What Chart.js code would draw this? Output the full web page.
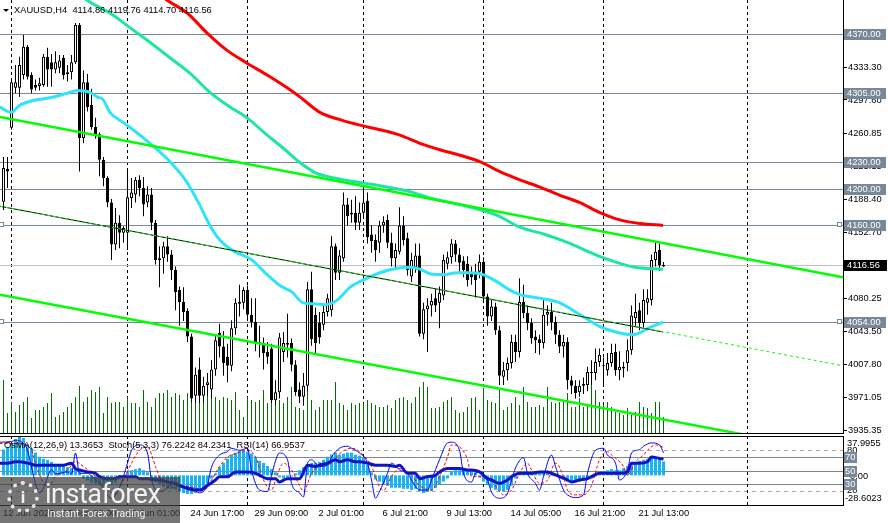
<!DOCTYPE html>
<html>
<head>
<meta charset="utf-8">
<script src="https://cdn.jsdelivr.net/npm/chart.js@4.4.1/dist/chart.umd.min.js"></script>
<style>
html, body { margin: 0; padding: 0; background: #fff; overflow: hidden; }
#wrap { position: relative; width: 888px; height: 523px; overflow: hidden; }
#main { position: absolute; left: 0; top: 0; }
#ind { position: absolute; left: 0; top: 434px; }
#logo { position: absolute; left: 0; top: 477px; width: 180px; height: 46px; background: rgba(64,64,64,0.72); }
#logoIcon { position: absolute; left: 7px; top: 4px; width: 24px; height: 24px; border: 4px dotted rgba(240,240,240,0.92); border-radius: 50%; text-align: center; }
#logoIcon span { color: #f2f2f2; font: bold 17px Roboto, sans-serif; line-height: 24px; }
#logoName { position: absolute; left: 45px; top: 2px; font: 27px Roboto, sans-serif; color: #f2f2f2; letter-spacing: -0.5px; line-height: 30px; }
#logoSub { position: absolute; left: 47px; top: 31px; font: 10.5px Roboto, sans-serif; color: #eeeeee; line-height: 12px; }
</style>
</head>
<body>
<div id="wrap">
  <canvas id="main" width="888" height="434"></canvas>
  <canvas id="ind" width="888" height="89"></canvas>
  <div id="logo">
    <div id="logoIcon"><span>i</span></div>
    <div id="logoName">instaforex</div>
    <div id="logoSub">Instant Forex Trading</div>
  </div>
</div>
<script>
// ---- data (bar index 0 = first full candle) ----
const opens = [4186,4222,4267,4311,4311,4325,4356,4325,4314,4313,
  4314,4345,4339,4331,4333,4344,4326,4328,4339,4380,
  4256,4317,4292,4268,4260,4232,4212,4185,4139,4163,
  4152,4152,4190,4194,4210,4201,4185,4194,4163,4124,
  4124,4137,4128,4111,4089,4076,4066,4038,3973,4002,
  3973,3985,3980,4002,4042,4027,4016,4006,4047,4074,
  4075,4089,4062,4054,4032,4031,4021,4025,3968,3977,
  4021,4029,4031,4007,3980,3972,3984,4090,4062,4053,
  4051,4065,4067,4137,4108,4124,4183,4174,4174,4163,
  4174,4187,4150,4144,4141,4160,4166,4141,4124,4131,
  4160,4146,4104,4114,4127,4041,4068,4072,4080,4075,
  4083,4118,4125,4140,4128,4121,4118,4109,4109,4109,
  4120,4082,4060,4071,4045,3994,4001,4009,4032,4021,
  4076,4064,4053,4038,4035,4031,4062,4065,4054,4040,
  4027,4032,3990,3984,3977,3984,3985,3998,3998,4010,
  4006,4001,4009,4021,4001,4005,4009,4023,4058,4067,
  4053,4075,4078,4122,4133,4114.86];
const highs = [4235,4235,4320,4336,4345,4369,4358,4328,4320,4322,
  4348,4355,4348,4351,4347,4347,4336,4347,4382,4382,
  4330,4326,4310,4278,4262,4235,4214,4189,4179,4171,
  4159,4221,4212,4213,4215,4213,4203,4201,4166,4137,
  4142,4148,4133,4115,4093,4092,4069,4041,4004,4015,
  3994,3998,4012,4040,4052,4044,4030,4056,4080,4095,
  4092,4094,4080,4080,4050,4037,4032,4030,3990,4042,
  4043,4063,4036,4012,3988,3998,4098,4109,4070,4065,
  4072,4085,4148,4140,4133,4196,4190,4188,4192,4185,
  4203,4196,4160,4150,4165,4170,4172,4152,4140,4180,
  4170,4152,4130,4140,4140,4075,4080,4085,4090,4093,
  4128,4131,4145,4144,4135,4126,4126,4115,4118,4128,
  4125,4085,4078,4075,4050,4010,4015,4040,4040,4102,
  4095,4072,4058,4045,4040,4080,4072,4075,4060,4045,
  4040,4037,3995,3990,3990,3993,4005,4012,4025,4025,
  4015,4020,4030,4030,4022,4010,4035,4072,4085,4075,
  4090,4090,4128,4142,4140,4119.76];
const lows = [4177,4201,4265,4305,4301,4320,4320,4305,4308,4308,
  4312,4312,4312,4327,4327,4320,4318,4320,4337,4219,
  4250,4285,4265,4255,4214,4203,4180,4122,4133,4135,
  4141,4133,4179,4185,4192,4170,4180,4155,4117,4092,
  4107,4120,4100,4067,4050,4055,4032,3966,3965,3965,
  3966,3973,3970,3995,4015,3995,3988,4000,4040,4060,
  4068,4055,4048,4022,4015,4002,4008,3965,3963,3970,
  4010,4015,4000,3973,3965,3962,3978,4028,4020,4030,
  4045,4060,4060,4100,4100,4120,4160,4163,4155,4155,
  4170,4140,4130,4120,4130,4152,4135,4115,4112,4128,
  4138,4105,4098,4108,4038,4035,4021,4060,4065,4047,
  4078,4112,4118,4120,4109,4103,4093,4095,4081,4102,
  4078,4050,4055,4040,3985,3985,3990,4003,4010,4015,
  4058,4045,4030,4020,4018,4025,4050,4045,4030,4020,
  4015,3980,3975,3970,3972,3975,3978,3985,3990,4005,
  3983,3995,4005,3995,3990,3993,4000,4018,4050,4045,
  4048,4062,4072,4115,4110,4114.70];
const closes = [4223,4219,4317,4317,4336,4356,4323,4309,4311,4316,
  4345,4331,4331,4339,4341,4325,4328,4339,4380,4256,
  4317,4290,4268,4258,4232,4212,4185,4139,4163,4152,
  4157,4191,4196,4210,4201,4183,4194,4163,4122,4122,
  4137,4128,4111,4087,4076,4065,4038,3970,3996,3973,
  3984,3988,4002,4034,4027,4009,4006,4047,4075,4076,
  4089,4062,4054,4032,4031,4020,4016,3968,3977,4037,
  4031,4031,4007,3977,3972,3984,4090,4035,4031,4037,
  4065,4080,4137,4108,4127,4183,4170,4172,4163,4174,
  4185,4147,4143,4133,4160,4164,4141,4124,4133,4160,
  4144,4111,4122,4127,4041,4068,4072,4077,4072,4086,
  4122,4125,4140,4128,4119,4111,4100,4103,4100,4120,
  4082,4060,4071,4045,3995,4001,4009,4032,4021,4076,
  4064,4053,4036,4034,4031,4062,4065,4054,4040,4027,
  4032,3990,3984,3976,3984,3986,3999,3999,4010,4018,
  4007,4009,4020,4001,4005,4003,4023,4061,4065,4053,
  4078,4080,4122,4131,4116,4116.56];
const volumes = [10600,4000,6200,4200,5600,6200,7200,3000,4600,4600,
  5200,6000,8000,3200,3600,4200,5200,6000,7200,9400,
  6200,7200,8600,8200,9200,4000,7200,6000,6200,6200,
  5200,7200,6000,6000,5200,8600,6200,5200,7000,8000,
  8000,8600,7200,8000,7600,6600,8000,8600,8200,7200,
  8600,9600,10000,7200,6600,7200,7000,6600,8200,4600,
  3200,7200,6600,6200,6600,8600,6000,9200,6000,6600,
  6000,7200,9200,5200,5000,4600,8600,6600,4600,5200,
  6600,6600,6600,10200,6000,5600,4600,6000,5600,6000,
  6000,6600,6000,5600,5200,5200,5600,5000,6600,7000,
  7200,6600,6000,7200,9200,10200,9200,5000,5000,5200,
  6200,6600,7200,4600,4000,4200,5200,7000,7200,4600,
  9000,6600,6200,6000,8600,4600,5200,6000,7200,5600,
  9200,6200,5200,5200,5600,5200,9200,6200,6000,6200,
  6600,8000,5200,5200,7000,5200,5600,10000,8600,6200,
  5600,6200,5200,4200,4000,3600,5000,3600,4200,6200,
  5200,5000,4000,6200,6200,3200];

// moving averages as [bar, price]
const cyanMA = [[-0.9,4290],[1.9,4284],[4.1,4292],[7.4,4297],[11.6,4300],[15.9,4305],[18.4,4308],
  [21.6,4306],[23.4,4301],[24.9,4298],[26.6,4284],[29.9,4273],[32.4,4265],[36.6,4250],[41.6,4230],
  [45.9,4207],[49.1,4182],[51.6,4160],[54.1,4144],[57.1,4133],[62.1,4122],[65.4,4108],[69.1,4094],
  [72.1,4087],[74.9,4075],[77.9,4074],[80.4,4073],[83.4,4078],[86.6,4092],[89.9,4100],[94.1,4108],
  [98.4,4113],[101.6,4114],[104.1,4112],[106.6,4107],[109.9,4106],[113.4,4108],[116.6,4108],
  [119.9,4106],[123.4,4098],[126.6,4089],[129.1,4084],[134.1,4080],[139.1,4075],[144.1,4062],
  [149.1,4049],[154.1,4042],[157.4,4040],[161.6,4048],[164.9,4054]];
const springMA = [[19.1,4413],[21.6,4405],[26.6,4393],[31.6,4377],[36.6,4361],[41.6,4344],[46.6,4327],
  [51.6,4306],[56.6,4290],[60.9,4278],[65.4,4261],[70.4,4243],[74.1,4229],[77.9,4218],[84.9,4210],
  [93.4,4204],[101.6,4197],[106.6,4190],[114.9,4182],[123.4,4171],[129.1,4158],[135.4,4150],
  [141.1,4141],[147.9,4128],[152.9,4120],[157.9,4114],[164.9,4112]];
const redMA = [[39.1,4413],[40.9,4407],[45.9,4393],[50.9,4371],[55.9,4352],[60.9,4338],[65.9,4325],
  [70.9,4311],[74.1,4301],[79.1,4284],[84.1,4276],[89.1,4270],[94.1,4265],[99.1,4259],[104.1,4250],
  [109.1,4243],[114.1,4237],[119.1,4230],[124.1,4219],[129.1,4210],[134.1,4202],[139.1,4193],
  [144.1,4185],[149.1,4174],[154.1,4166],[159.1,4162],[164.9,4160]];

// trend lines as [bar, price]
const upperChannel = [[-0.875,4279],[209.875,4103]];
const lowerChannel = [[-0.875,4084],[209.875,3910]];
const midLine = [[-0.875,4181],[209.875,4006]];
const midLineSolid = [[-0.875,4181],[164.9,4043]];

const levels = [4370, 4305, 4230, 4200, 4160, 4054];
const handleLevels = [4160, 4054];
const lastPrice = 4116.56;
const priceTicks = [4333.30,4297.60,4260.85,4225.15,4188.40,4152.70,4080.25,4043.50,4007.80,3971.05,3935.35];
const gridBars = [2, 31, 61, 90, 120, 150, 186];
const timeLabels = ['12 Jun 2026','17 Jun 09:00','22 Jun 01:00','24 Jun 17:00','29 Jun 09:00','2 Jul 01:00',
  '6 Jul 21:00','9 Jul 13:00','14 Jul 05:00','16 Jul 21:00','21 Jul 13:00'];
const timeLabelBars = [-0.875, 14, 30, 46, 62, 78, 94, 110, 126, 142, 158];
const header = 'XAUUSD,H4  4114.86 4119.76 4114.70 4116.56';

// oscillator window
const osma = [25,27,30,35,38,36,30,26,22,18,16,15,13,11,10,9,8,7,6,3,
  -3,-5,-7,-8,-9,-10,-10,-9,-7,-4,-2,3,5,6,7,5,3,-2,-6,-9,
  -11,-12,-13,-14,-16,-17,-18,-18,-17,-15,-12,-8,-3,2,8,12,16,20,22,24,
  24,23,21,18,14,12,9,6,3,-2,-3,-2,-1,2,5,8,11,12,12,13,
  15,18,20,22,20,21,22,22,20,19,17,10,3,-4,-6,-8,-10,-12,-12,-12,
  -13,-13,-14,-13,-15,-17,-16,-15,-12,-9,-6,-3,4,5,5,5,5,4,3,-2,
  -6,-9,-12,-14,-15,-16,-14,-10,-3,2,4,4,3,2,2,3,4,3,1,-2,
  -4,-6,-7,-7,-6,-5,-4,-3,-1,2,4,5,6,5,5,7,9,11,13,14,
  15,16,17,18,16,13.3653];
const stochMain = [[-1,92],[2,93],[3,95],[5,90],[6,80],[7,55],[9,17],[10,24],[12,51],[13,45],[16,48],
  [17,45],[18,76],[19,46],[21,46],[22,42],[24,31],[27,9],[29,25],[31,61],[32,80],[34,88],[36,76],
  [37,36],[39,19],[41,24],[42,31],[44,26],[47,24],[49,17],[51,29],[52,55],[54,73],[56,78],[57,83],
  [59,80],[61,83],[62,51],[64,21],[66,19],[67,43],[69,76],[71,66],[72,31],[74,17],[75,11],[76,61],
  [77,66],[79,56],[81,58],[82,70],[84,83],[86,86],[87,83],[89,76],[91,61],[92,36],[93,9],[94,19],
  [96,46],[97,61],[99,51],[101,46],[102,36],[104,21],[106,21],[107,36],[109,66],[111,91],[112,92],
  [114,80],[115,46],[117,33],[118,46],[119,48],[121,36],[122,18],[124,9],[126,16],[127,36],[128,54],
  [130,69],[131,46],[133,31],[134,21],[135,41],[137,73],[138,56],[140,21],[141,14],[143,10],[145,14],
  [146,46],[148,80],[150,83],[151,73],[153,61],[154,36],[156,51],[157,76],[159,81],[160,86],[162,91],
  [164,88],[165,76.2242]];
const stochSignal = [[-1,90],[4,90],[7,80],[8,61],[10,31],[11,26],[13,41],[16,51],[18,63],[20,56],
  [23,41],[26,21],[28,16],[30,36],[32,61],[34,80],[36,85],[38,56],[40,28],[42,24],[44,28],[48,24],
  [50,21],[52,36],[54,56],[56,70],[58,75],[61,80],[63,70],[65,36],[67,21],[68,36],[70,61],[72,51],
  [74,28],[75,19],[77,46],[79,56],[82,61],[84,75],[87,83],[89,78],[92,56],[94,26],[95,21],[97,41],
  [99,53],[102,43],[104,28],[107,21],[109,41],[111,70],[112,88],[114,85],[116,66],[117,41],[119,41],
  [122,36],[124,19],[125,14],[127,21],[129,46],[131,61],[132,51],[134,31],[136,36],[138,61],[140,41],
  [141,21],[143,14],[145,14],[147,28],[149,66],[151,78],[152,73],[155,56],[156,43],[158,63],[160,73],
  [161,80],[163,88],[165,84.2341]];
const rsi = [[-1,61],[1,61],[3,63],[4,63],[6,61],[8,58],[10,58],[13,58],[15,58],[17,61],[18,53],[19,51],
  [21,48],[23,46],[24,41],[26,38],[28,38],[29,41],[31,41],[33,41],[34,38],[36,38],[38,36],[39,36],
  [41,33],[43,31],[44,28],[46,23.5],[48,21],[49,21],[51,28],[53,36],[54,41],[56,41],[58,48],[59,48],
  [61,48],[63,46],[64,43],[66,38],[68,38],[69,33],[71,38],[73,38],[74,38],[76,58],[78,56],[79,58],
  [81,61],[83,66],[84,63],[86,66],[88,63],[89,63],[91,61],[93,58],[94,58],[96,58],[98,56],[99,58],
  [101,46],[103,46],[104,38],[106,41],[108,43],[109,48],[111,53],[112,53],[114,53],[116,51],[117,51],
  [119,48],[121,38],[122,36],[124,31],[126,36],[127,41],[129,46],[132,46],[134,48],[136,48],[137,46],
  [139,41],[141,36],[142,33],[144,36],[146,38],[147,41],[149,46],[152,46],[154,46],[156,48],[157,61],
  [159,61],[161,63],[162,70],[164,68],[165,66.9537]];
const oscLevels = [70, 50, 30];
const oscDashed = [80, 20];
const osmaRange = [-28.6023, 37.9955];
const panelTitle = 'OsMA(12,26,9) 13.3653  Stoch(5,3,3) 76.2242 84.2341  RSI(14) 66.9537';

// ---- drawing ----
const FONT = '9.3px "Liberation Sans", Arial, sans-serif';
Chart.defaults.font.family = '"Liberation Sans", Arial, sans-serif';
Chart.defaults.font.size = 9.3;
Chart.defaults.color = '#000';

const xMin = -0.875, xMax = 209.875;
const toXY = pts => pts.map(p => ({x: p[0], y: p[1]}));
const bars = closes.map((c, i) => i);
const wickData = bars.map(i => ({x: i, y: [lows[i], highs[i]]}));
const bodyData = bars.map(i => ({x: i, y: [Math.min(opens[i], closes[i]), Math.max(opens[i], closes[i])]}));
const bodyColors = bars.map(i => closes[i] >= opens[i] ? '#ffffff' : '#000000');
const volData = bars.map(i => ({x: i, y: volumes[i]}));
const osmaData = bars.map(i => ({x: i, y: osma[i]}));

function vDashes(ctx, x, a) {
  ctx.save();
  ctx.strokeStyle = '#000'; ctx.lineWidth = 1; ctx.setLineDash([3, 3]);
  gridBars.forEach(b => {
    const px = Math.floor(x.getPixelForValue(b)) + 0.5;
    ctx.beginPath(); ctx.moveTo(px, a.top); ctx.lineTo(px, a.bottom); ctx.stroke();
  });
  ctx.restore();
}

const mainDecor = {
  id: 'mainDecor',
  beforeDatasetsDraw(chart) {
    const {ctx, chartArea: a, scales: {x, y}} = chart;
    vDashes(ctx, x, a);
    ctx.save();
    ctx.lineWidth = 1;
    ctx.strokeStyle = '#778899';
    levels.forEach(v => {
      const py = Math.round(y.getPixelForValue(v)) + 0.5;
      ctx.beginPath(); ctx.moveTo(a.left, py); ctx.lineTo(a.right, py); ctx.stroke();
    });
    ctx.strokeStyle = '#c0c0c0';
    const lp = Math.round(y.getPixelForValue(lastPrice)) + 0.5;
    ctx.beginPath(); ctx.moveTo(a.left, lp); ctx.lineTo(a.right, lp); ctx.stroke();
    ctx.restore();
  },
  afterDraw(chart) {
    const {ctx, chartArea: a, scales: {y}} = chart;
    ctx.save();
    ctx.fillStyle = '#000';
    ctx.fillRect(a.left, a.bottom, a.right - a.left, 1);
    ctx.font = FONT;
    ctx.textBaseline = 'middle';
    levels.forEach(v => {
      const py = Math.round(y.getPixelForValue(v));
      ctx.fillStyle = '#778899';
      ctx.fillRect(a.right + 1, py - 5, 42, 11);
      ctx.fillStyle = '#ffffff';
      ctx.fillText(v.toFixed(2), a.right + 4, py + 0.5);
    });
    const lp = Math.round(y.getPixelForValue(lastPrice));
    ctx.fillStyle = '#000';
    ctx.fillRect(a.right + 1, lp - 5, 43, 11);
    ctx.fillStyle = '#fff';
    ctx.fillText(lastPrice.toFixed(2), a.right + 4, lp + 0.5);
    // object handles
    ctx.strokeStyle = '#778899';
    ctx.fillStyle = '#fff';
    handleLevels.forEach(v => {
      const py = Math.round(y.getPixelForValue(v));
      [a.left - 1, a.right - 6].forEach(hx => {
        ctx.fillRect(hx, py - 2, 4, 4);
        ctx.strokeRect(hx + 0.5, py - 2.5, 4, 4);
      });
    });
    // header
    ctx.fillStyle = '#000';
    ctx.beginPath(); ctx.moveTo(3, 9); ctx.lineTo(9, 9); ctx.lineTo(6, 12); ctx.closePath(); ctx.fill();
    ctx.textBaseline = 'alphabetic';
    ctx.fillText(header, 14, 13);
    ctx.restore();
  }
};

new Chart(document.getElementById('main'), {
  type: 'bar',
  data: {
    datasets: [
      {type: 'line', data: toXY(midLine), borderColor: '#00ff00', borderWidth: 1, borderDash: [3, 3], pointRadius: 0, order: 1},
      {type: 'line', data: toXY(midLineSolid), borderColor: '#000000', borderWidth: 1, pointRadius: 0, order: 2},
      {type: 'line', data: toXY(upperChannel), borderColor: '#00ff00', borderWidth: 2.5, pointRadius: 0, order: 3},
      {type: 'line', data: toXY(lowerChannel), borderColor: '#00ff00', borderWidth: 2.5, pointRadius: 0, order: 3},
      {type: 'line', data: toXY(redMA), borderColor: '#ff0000', borderWidth: 3, pointRadius: 0, cubicInterpolationMode: 'monotone', order: 4},
      {type: 'line', data: toXY(springMA), borderColor: '#1ee6a2', borderWidth: 3, pointRadius: 0, cubicInterpolationMode: 'monotone', order: 5},
      {type: 'line', data: toXY(cyanMA), borderColor: '#2fe4fa', borderWidth: 3, pointRadius: 0, cubicInterpolationMode: 'monotone', order: 6},
      {data: bodyData, backgroundColor: bodyColors, borderColor: '#000', borderWidth: 1, borderSkipped: false,
        barThickness: 3, grouped: false, minBarLength: 1, inflateAmount: 0, order: 7},
      {data: wickData, backgroundColor: '#000', barThickness: 1, grouped: false, inflateAmount: 0, order: 8},
      {data: volData, yAxisID: 'vol', backgroundColor: '#006e00', barThickness: 1, grouped: false, inflateAmount: 0, order: 9}
    ]
  },
  options: {
    responsive: false,
    animation: false,
    events: [],
    layout: {padding: {left: 0, right: 0, top: 0, bottom: 1}},
    plugins: {legend: {display: false}, tooltip: {enabled: false}},
    scales: {
      x: {type: 'linear', min: xMin, max: xMax, display: false, offset: false},
      y: {
        position: 'right', min: 3932.2, max: 4407.3,
        afterBuildTicks: s => { s.ticks = priceTicks.map(v => ({value: v})); },
        afterFit: s => { s.width = 45; s.paddingTop = 0; s.paddingBottom = 0; },
        ticks: {autoSkip: false, padding: 1, callback: v => Number(v).toFixed(2)},
        grid: {drawOnChartArea: false, tickLength: 4, tickColor: '#000'},
        border: {color: '#000'}
      },
      vol: {display: false, min: 0, max: 86600}
    }
  },
  plugins: [mainDecor]
});

const panelDecor = {
  id: 'panelDecor',
  beforeDatasetsDraw(chart) {
    const {ctx, chartArea: a, scales: {x, osc}} = chart;
    ctx.save();
    ctx.lineWidth = 1;
    ctx.strokeStyle = '#aaaaaa';
    ctx.setLineDash([4, 4]);
    oscDashed.forEach(v => {
      const py = Math.round(osc.getPixelForValue(v)) + 0.5;
      ctx.beginPath(); ctx.moveTo(a.left, py); ctx.lineTo(a.right, py); ctx.stroke();
    });
    ctx.setLineDash([]);
    ctx.strokeStyle = '#778899';
    oscLevels.forEach(v => {
      const py = Math.round(osc.getPixelForValue(v)) + 0.5;
      ctx.beginPath(); ctx.moveTo(a.left, py); ctx.lineTo(a.right, py); ctx.stroke();
    });
    ctx.restore();
    vDashes(ctx, x, a);
  },
  afterDraw(chart) {
    const {ctx, chartArea: a, scales: {osc, macd}} = chart;
    ctx.save();
    ctx.fillStyle = '#000';
    ctx.fillRect(a.left, a.top, a.right - a.left, 1);
    ctx.font = FONT;
    ctx.textBaseline = 'alphabetic';
    ctx.fillText(panelTitle, 4, a.top + 12);
    ctx.textBaseline = 'middle';
    const tx = a.right + 4;
    ctx.fillText(osmaRange[1].toFixed(4), tx, macd.getPixelForValue(osmaRange[1]) + 7);
    ctx.fillText(osmaRange[0].toFixed(4), tx - 2, macd.getPixelForValue(osmaRange[0]) - 7);
    ctx.fillText('0.00', tx + 3, macd.getPixelForValue(0) + 1);
    oscDashed.forEach(v => ctx.fillText(String(v), tx, osc.getPixelForValue(v)));
    oscLevels.forEach(v => {
      const py = Math.round(osc.getPixelForValue(v));
      ctx.fillStyle = '#778899';
      ctx.fillRect(a.right + 1, py - 5, 13, 11);
      ctx.fillStyle = '#fff';
      ctx.fillText(String(v), a.right + 2, py + 0.5);
    });
    ctx.restore();
  }
};

new Chart(document.getElementById('ind'), {
  type: 'bar',
  data: {
    datasets: [
      {type: 'line', data: toXY(rsi), yAxisID: 'osc', borderColor: '#1212c4', borderWidth: 3, pointRadius: 0, cubicInterpolationMode: 'monotone', order: 1},
      {type: 'line', data: toXY(stochMain), yAxisID: 'osc', borderColor: '#0000ff', borderWidth: 1, pointRadius: 0, cubicInterpolationMode: 'monotone', order: 2},
      {type: 'line', data: toXY(stochSignal), yAxisID: 'osc', borderColor: '#ff0000', borderWidth: 1, borderDash: [3, 2], pointRadius: 0, cubicInterpolationMode: 'monotone', order: 3},
      {data: osmaData, yAxisID: 'macd', backgroundColor: '#18b4f0', barThickness: 3, grouped: false, inflateAmount: 0, order: 4}
    ]
  },
  options: {
    responsive: false,
    animation: false,
    events: [],
    layout: {padding: {left: 0, right: 0, top: 2, bottom: 0}},
    plugins: {legend: {display: false}, tooltip: {enabled: false}},
    scales: {
      x: {
        type: 'linear', min: xMin, max: xMax, position: 'bottom', offset: false,
        afterBuildTicks: s => { s.ticks = timeLabelBars.map(v => ({value: v})); },
        afterFit: s => { s.height = 18; s.paddingLeft = 0; s.paddingRight = 0; },
        ticks: {
          autoSkip: false, maxRotation: 0, minRotation: 0, align: 'start', labelOffset: 3, padding: 3,
          callback: v => timeLabels[timeLabelBars.indexOf(v)]
        },
        grid: {display: false, drawTicks: false},
        border: {display: true, color: '#000'}
      },
      osc: {
        position: 'right', min: -1.04, max: 101.19,
        afterFit: s => { s.width = 45; s.paddingTop = 0; s.paddingBottom = 0; },
        ticks: {display: false},
        grid: {display: false, drawTicks: false},
        border: {display: true, color: '#000'}
      },
      macd: {display: false, min: osmaRange[0], max: osmaRange[1]}
    }
  },
  plugins: [panelDecor]
});
</script>
</body>
</html>
